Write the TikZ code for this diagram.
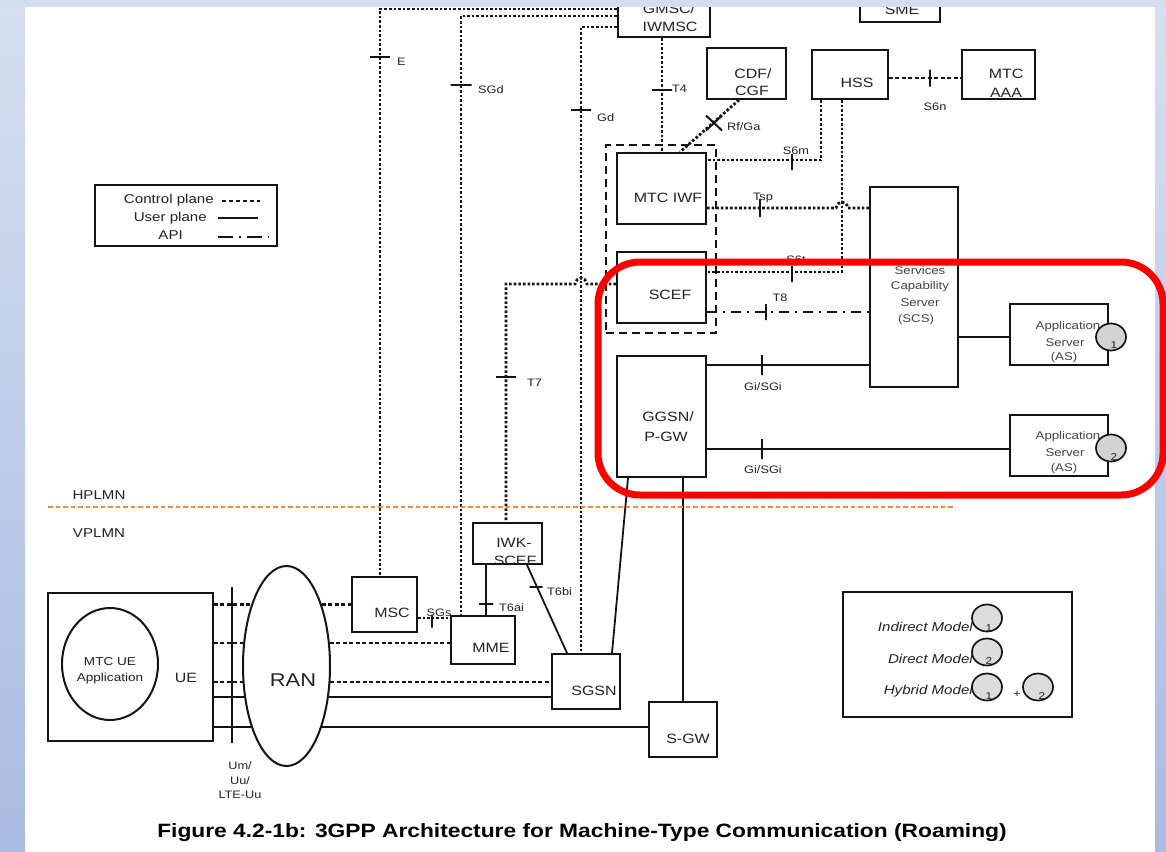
\documentclass[tikz,border=0pt]{standalone}
\usepackage{fontspec}
\setmainfont{Liberation Sans}[FakeStretch=1.18]
\usetikzlibrary{shapes.geometric,shapes.misc}
\definecolor{bgtop}{HTML}{D5DFF1}
\definecolor{bgbot}{HTML}{A9BCE1}
\definecolor{band}{HTML}{D2DDF0}
\definecolor{ln}{HTML}{141414}
\definecolor{tx}{HTML}{222222}
\definecolor{txl}{HTML}{444444}
\definecolor{orng}{HTML}{F28C3C}
\definecolor{cgray}{HTML}{D3D3D3}
\definecolor{hlred}{HTML}{FF0000}
\begin{document}
\begin{tikzpicture}[x=1pt,y=-1pt,
 box/.style={draw=ln,line width=1.9,inner sep=0,rectangle},
 oval/.style={draw=ln,line width=2,inner sep=0,ellipse},
 ctrl/.style={draw=ln,line width=2.8,dash pattern=on 2.6 off 2.0},
 user/.style={draw=ln,line width=1.8},
 api/.style={draw=ln,line width=1.8,dash pattern=on 10 off 6 on 2 off 6},
 grpbox/.style={draw=ln,line width=2.4,dash pattern=on 8 off 5,inner sep=0,rectangle},
 tickh/.style={draw=ln,line width=2,inner sep=0,minimum height=0,minimum width=#1,rectangle},
 tickv/.style={draw=ln,line width=2,inner sep=0,minimum width=0,minimum height=#1,rectangle},
 lbl/.style={inner sep=0,text=tx,font=\fontsize{10.8}{12}\selectfont},
 bt/.style={inner sep=0,text=tx,font=\fontsize{13.5}{15}\selectfont},
 lt/.style={inner sep=0,text=tx,font=\fontsize{12.8}{15}\selectfont},
 st/.style={inner sep=0,text=txl,font=\fontsize{11.2}{13}\selectfont},
 it/.style={inner sep=0,text=tx,font=\itshape\fontsize{12.8}{15}\selectfont,anchor=east},
 circ/.style={draw=ln,line width=1.7,fill=cgray,ellipse,inner sep=0,minimum width=30,minimum height=27},
 dig/.style={inner sep=0,text=tx,font=\fontsize{10}{12}\selectfont},
]
\useasboundingbox (0,0) rectangle (1166,851);
\fill[white] (0,0) rectangle (1166,851);
\shade[top color=bgtop,bottom color=bgbot] (0,0) rectangle (25,851);
\shade[top color=bgtop,bottom color=bgbot] (1155,0) rectangle (1166,851);

% ---------- boxes ----------
\node[box,minimum width=92,minimum height=50] (gmsc) at (664,12) {};
\node[box,minimum width=80,minimum height=40] (sme) at (900,2) {};
\node[box,minimum width=79,minimum height=51] (cdf) at (746.5,73.5) {};
\node[box,minimum width=76,minimum height=49] (hss) at (850,74.5) {};
\node[box,minimum width=73,minimum height=49] (aaa) at (998.5,74.5) {};
\node[box,minimum width=89,minimum height=71] (iwf) at (661.5,188.5) {};
\node[box,minimum width=89,minimum height=71] (scef) at (661.5,287.5) {};
\node[grpbox,minimum width=110,minimum height=188] (grp) at (661,239) {};
\node[box,minimum width=89,minimum height=121] (ggsn) at (661.5,416.5) {};
\node[box,minimum width=88,minimum height=200] (scs) at (914,287) {};
\node[box,minimum width=98,minimum height=61] (as1) at (1059,334.5) {};
\node[box,minimum width=98,minimum height=61] (as2) at (1059,445.5) {};
\node[box,minimum width=182,minimum height=61] (legend) at (186,215.5) {};
\node[box,minimum width=165,minimum height=148] (ue) at (130.5,667) {};
\node[oval,minimum width=96,minimum height=112] (app) at (110,664) {};
\node[oval,minimum width=87,minimum height=200] (ran) at (286.5,666) {};
\node[box,minimum width=65,minimum height=55] (msc) at (384.5,604.5) {};
\node[box,minimum width=64,minimum height=48] (mme) at (483,640) {};
\node[box,minimum width=69,minimum height=41] (iwk) at (507.5,543.5) {};
\node[box,minimum width=68,minimum height=55] (sgsn) at (586,681.5) {};
\node[box,minimum width=68,minimum height=55] (sgw) at (683,729.5) {};
\node[box,minimum width=229,minimum height=125] (models) at (957.5,654.5) {};

% ---------- box texts ----------
\node[bt] (gmscA) at (669,9) {GMSC/};
\node[bt] (gmscB) at (670,27) {IWMSC};
\node[bt] (smeT) at (902,10) {SME};
\node[bt] (cdfA) at (753,74) {CDF/};
\node[bt] (cdfB) at (752,91) {CGF};
\node[bt] (hssT) at (857,83) {HSS};
\node[bt] (aaaA) at (1006,74) {MTC};
\node[bt] (aaaB) at (1006,93) {AAA};
\node[bt] (iwfT) at (668,198) {MTC IWF};
\node[bt] (scefT) at (670,295) {SCEF};
\node[bt] (ggsnA) at (668,417) {GGSN/};
\node[bt] (ggsnB) at (666,437) {P-GW};
\node[st] (scsA) at (920,270) {Services};
\node[st] (scsB) at (920,287) {Capability};
\node[st] (scsC) at (920,303) {Server};
\node[st] (scsD) at (916,320) {(SCS)};
\node[st] (as1A) at (1068,327) {Application};
\node[st] (as1B) at (1065,343) {Server};
\node[st] (as1C) at (1064,358) {(AS)};
\node[st] (as2A) at (1068,437) {Application};
\node[st] (as2B) at (1065,453) {Server};
\node[st] (as2C) at (1064,469) {(AS)};
\node[circ] (c1) at (1111,337) {};
\node[dig] (c1d) at (1114,345) {1};
\node[circ] (c2) at (1111,448) {};
\node[dig] (c2d) at (1114,457) {2};
\node[bt] (mscT) at (392,613) {MSC};
\node[bt] (mmeT) at (491,648) {MME};
\node[bt] (iwkA) at (514,543) {IWK-};
\node[bt] (iwkB) at (515,561) {SCEF};
\node[bt] (sgsnT) at (594,691) {SGSN};
\node[bt] (sgwT) at (688,739) {S-GW};
\node[lbl,font=\fontsize{11.5}{13}\selectfont] (appA) at (110,662) {MTC UE};
\node[lbl,font=\fontsize{11.5}{13}\selectfont] (appB) at (110,679) {Application};
\node[bt] (ueT) at (186,678) {UE};
\node[inner sep=0,text=tx,font=\fontsize{18.5}{22}\selectfont] (ranT) at (293,680) {RAN};
\node[lt] (hplmn) at (99,495) {HPLMN};
\node[lt] (vplmn) at (99,533) {VPLMN};

% ---------- legend ----------
\node[lt,anchor=east] (lgA) at (214,200) {Control plane};
\node[lt,anchor=east] (lgB) at (207,218) {User plane};
\node[lt,anchor=east] (lgC) at (183,235) {API};
\coordinate (lc1) at (222,201); \coordinate (lc2) at (260,201);
\coordinate (lu1) at (218,218); \coordinate (lu2) at (258,218);
\coordinate (la1) at (218,237); \coordinate (la2) at (269,237);
\draw[draw=ln,line width=2.4,dash pattern=on 4 off 3] (lc1) -- (lc2);
\draw[user] (lu1) -- (lu2);
\draw[draw=ln,line width=2.4,dash pattern=on 15 off 6 on 2 off 6] (la1) -- (la2);

% ---------- models legend ----------
\node[it] (mA) at (973,627) {Indirect Model};
\node[it] (mB) at (973,659) {Direct Model};
\node[it] (mC) at (973,691) {Hybrid Model};
\node[circ,fill=cgray!80] (m1) at (987,618) {};
\node[dig] (m1d) at (989,628) {1};
\node[circ,fill=cgray!80] (m2) at (987,652) {};
\node[dig] (m2d) at (989,661) {2};
\node[circ,fill=cgray!80] (m3) at (987,687) {};
\node[dig] (m3d) at (989,696) {1};
\node[lbl] (plus) at (1017,694) {+};
\node[circ,fill=cgray!80] (m4) at (1038,687) {};
\node[dig] (m4d) at (1042,696) {2};

% ---------- control plane connectors ----------
\draw[ctrl] (gmsc.west |- 0,9) -| (msc.north -| 380,0);
\draw[ctrl] (gmsc.west |- 0,16) -| (mme.north -| 461,0);
\draw[ctrl] (gmsc.west |- 0,27) -| (sgsn.north -| 581,0);
\draw[ctrl] (gmsc.south -| 662,0) -- (iwf.north -| 662,0);
\draw[ctrl] (cdf.south -| 739,0) -- (iwf.north -| 680,0);
\draw[ctrl] (hss.south -| 821,0) |- (iwf.east |- 0,160);
\draw[ctrl] (hss.south -| 842,0) |- (scef.east |- 0,272);
\draw[ctrl] (iwf.east |- 0,208) -- (836,208) .. controls (838,200) and (846,200) .. (848,208) -- (scs.west |- 0,208);
\draw[ctrl] (scef.west |- 0,284) -- (587,284) .. controls (585,276) and (577,276) .. (575,284) -| (iwk.north -| 506,0);
\draw[ctrl,dash pattern=on 4 off 2.5] (hss.east |- 0,78) -- (aaa.west |- 0,78);
\draw[ctrl] (msc.east |- 0,618) -- (mme.west |- 0,618);
\draw[api] (scef.east |- 0,312) -- (scs.west |- 0,312);

% UE - RAN - core
\draw[ctrl,dash pattern=on 4 off 2.5] (ue.east |- ran.120) -- (ran.120);
\draw[ctrl,dash pattern=on 4 off 2.5] (ue.east |- ran.152) -- (ran.152);
\draw[ctrl,dash pattern=on 4 off 2.5] (ue.east |- ran.200) -- (ran.200);
\draw[user] (ue.east |- ran.216) -- (ran.216);
\draw[user] (ue.east |- ran.240) -- (ran.240);
\draw[ctrl,dash pattern=on 4 off 2.5] (ran.60) -- (msc.west |- ran.60);
\draw[ctrl,dash pattern=on 4 off 2.5] (ran.28) -- (mme.west |- ran.28);
\draw[ctrl,dash pattern=on 4 off 2.5] (ran.340) -- (sgsn.west |- ran.340);
\draw[user] (ran.324) -- (sgsn.west |- ran.324);
\draw[user] (ran.300) -- (sgw.west |- ran.300);

% ---------- user plane connectors ----------
\draw[user] (ggsn.east |- 0,365) -- (scs.west |- 0,365);
\draw[user] (ggsn.east |- 0,449) -- (as2.west |- 0,449);
\draw[user] (scs.east |- 0,337) -- (as1.west |- 0,337);
\draw[user] (ggsn.south -| 628,0) -- (sgsn.north -| 612,0);
\draw[user] (ggsn.south -| sgw.north) -- (sgw.north);
\draw[user] (iwk.south -| 486,0) -- (mme.north -| 486,0);
\draw[user] (iwk.south -| 527,0) -- (sgsn.north -| 567,0);

% Um reference line
\node[tickv=156] (um) at (232,665) {};

% ---------- ticks ----------
\node[tickh=20] (tkE) at (380,57) {};
\node[tickh=21] (tkSGd) at (461,85) {};
\node[tickh=20] (tkGd) at (581,110) {};
\node[tickh=20] (tkT4) at (662,90) {};
\node[cross out,draw=ln,line width=2,minimum width=14,minimum height=13,inner sep=0] (tkRf) at (714,123) {};
\node[tickv=16] (tkS6m) at (792,162) {};
\node[tickv=18] (tkTsp) at (760,208) {};
\node[tickv=16] (tkS6t) at (792,274) {};
\node[tickv=16] (tkT8) at (766,312) {};
\node[tickh=20] (tkT7) at (506,377) {};
\node[tickv=20] (tkGi1) at (762,365) {};
\node[tickv=20] (tkGi2) at (762,449) {};
\node[tickv=17] (tkS6n) at (930,78) {};
\node[tickv=13] (tkSGs) at (432,621) {};
\node[tickh=14] (tkT6ai) at (486,604) {};
\node[tickh=13] (tkT6bi) at (536,587) {};

% ---------- interface labels ----------
\node[lbl,anchor=west] (lE) at (397,62) {E};
\node[lbl,anchor=west] (lSGd) at (478,90) {SGd};
\node[lbl,anchor=west] (lGd) at (597,118) {Gd};
\node[lbl,anchor=west] (lT4) at (672,89) {T4};
\node[lbl,anchor=west] (lRf) at (727,127) {Rf/Ga};
\node[lbl] (lS6m) at (796,151) {S6m};
\node[lbl] (lTsp) at (763,198) {Tsp};
\node[lbl] (lS6t) at (796,260) {S6t};
\node[lbl] (lT8) at (780,298) {T8};
\node[lbl,anchor=west] (lT7) at (527,383) {T7};
\node[lbl] (lGi1) at (763,387) {Gi/SGi};
\node[lbl] (lGi2) at (763,470) {Gi/SGi};
\node[lbl] (lS6n) at (935,107) {S6n};
\node[lbl] (lSGs) at (439,613) {SGs};
\node[lbl,anchor=west] (lT6ai) at (499,608) {T6ai};
\node[lbl,anchor=west] (lT6bi) at (547,592) {T6bi};
\node[lbl] (lUm) at (240,766) {Um/};
\node[lbl] (lUu) at (240,781) {Uu/};
\node[lbl] (lLte) at (240,795) {LTE-Uu};

% ---------- PLMN border ----------
\coordinate (hp1) at (48,507); \coordinate (hp2) at (955,507);
\draw[draw=orng,line width=2.6,dash pattern=on 4.5 off 3] (hp1) -- (hp2);

% ---------- caption ----------
\node[inner sep=0,text=black,font=\bfseries\fontsize{19.3}{22}\selectfont] (cap) at (582,833) {Figure 4.2-1b: 3GPP Architecture for Machine-Type Communication (Roaming)};

% ---------- top band and highlight ----------
\fill[band] (0,0) rectangle (1166,7);
\node[draw=hlred,line width=7,rounded corners=42,inner sep=0,minimum width=565,minimum height=233] (hl) at (880.5,378.5) {};
\end{tikzpicture}
\end{document}
